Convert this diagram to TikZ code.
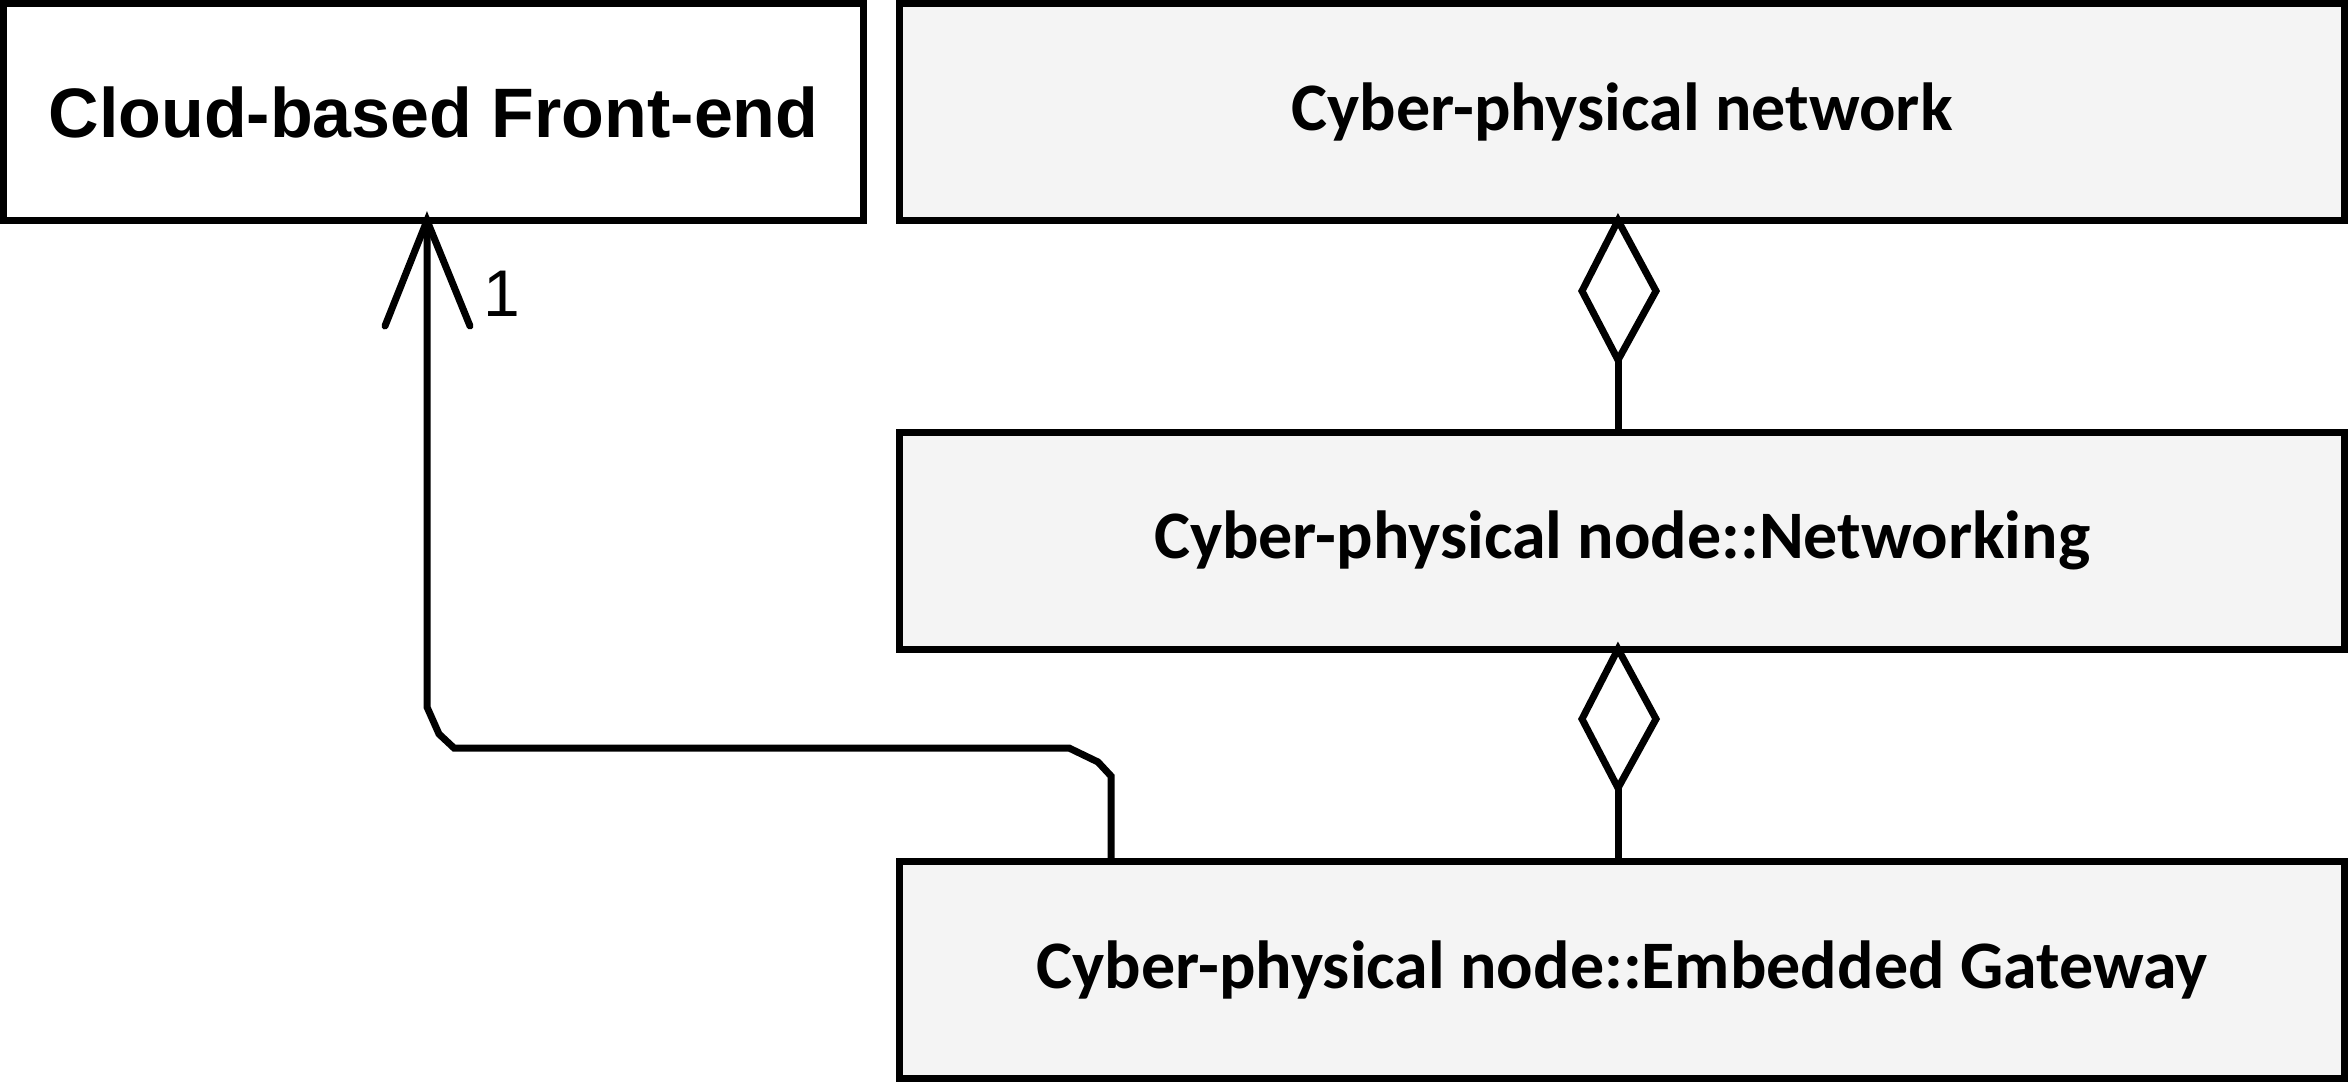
\documentclass[tikz,border=0pt]{standalone}
\usepackage{fontspec}
\setmainfont{Carlito}
\newfontfamily\arialfont{Liberation Sans}
\definecolor{boxfill}{RGB}{244,244,244}
\begin{document}
\begin{tikzpicture}[x=0.5pt,y=-0.5pt,
  umlbox/.style={draw=black, line width=3.5pt, rectangle, inner sep=0pt,
    minimum width=1445*0.5pt, minimum height=217*0.5pt, fill=boxfill,
    font=\fontsize{34pt}{40pt}\selectfont\bfseries},
  conn/.style={draw=black, line width=3.5pt},
  tipline/.style={draw=black, line width=3.5pt, line cap=round}]
\useasboundingbox (0,0) rectangle (2348,1082);
\fill[white] (0,0) rectangle (2348,1082);
\node[umlbox, fill=white, minimum width=860*0.5pt,
  font=\arialfont\fontsize{35pt}{40pt}\selectfont\bfseries] (cloud) at (433.5,112) {Cloud-based Front-end};
\node[umlbox] (net) at (1622,112) {\raisebox{-1.5pt}{Cyber-physical network}};
\node[umlbox] (nw) at (1622,540.5) {\raisebox{-1.5pt}{Cyber-physical node::Networking}};
\node[umlbox] (gw) at (1622,969.5) {\raisebox{-1.5pt}{Cyber-physical node::Embedded Gateway}};
% aggregation 1
\coordinate (d1t) at (1618,220.5);
\coordinate (d1b) at (1618,360);
\coordinate (n1t) at (1618,432);
\draw[conn, fill=white] (d1t) -- (1656,291) -- (d1b) -- (1582,291) -- cycle;
\draw[conn] (d1b) -- (n1t);
% aggregation 2
\coordinate (d2t) at (1618,649);
\coordinate (d2b) at (1618,788);
\coordinate (n2t) at (1618,861);
\draw[conn, fill=white] (d2t) -- (1656,719) -- (d2b) -- (1582,719) -- cycle;
\draw[conn] (d2b) -- (n2t);
% association
\coordinate (gwtop) at (1111,861);
\coordinate (cltip) at (427,220.5);
\draw[conn] (gwtop) -- (1111,776) -- (1098,762) -- (1069,748) -- (454,748) -- (439,734) -- (427,707) -- (cltip);
\draw[tipline] (385,326) -- (cltip) -- (470,326);
\node[font=\arialfont\fontsize{33pt}{40pt}\selectfont, inner sep=0pt] (mult) at (502,294) {1};
\end{tikzpicture}
\end{document}
